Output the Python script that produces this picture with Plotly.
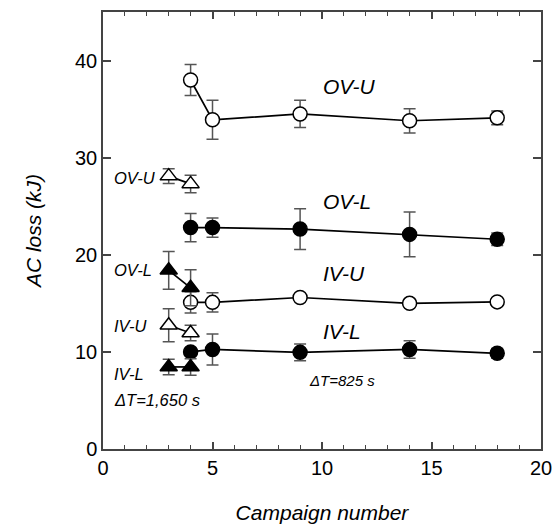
import plotly.graph_objects as go

# ---- data ----
campaign_circ = [4, 5, 9, 14, 18]
ovu_circ = [38.0, 33.9, 34.5, 33.8, 34.1]
ovu_circ_err = [1.6, 2.0, 1.4, 1.25, 0.7]
ovl_circ = [22.8, 22.8, 22.65, 22.1, 21.6]
ovl_circ_err = [1.45, 1.0, 2.1, 2.3, 0.65]
ivu_circ = [15.1, 15.1, 15.6, 15.0, 15.15]
ivu_circ_err = [1.1, 1.0, 0.3, 0.4, 0.4]
ivl_circ = [10.0, 10.25, 9.95, 10.25, 9.85]
ivl_circ_err = [0.4, 1.6, 0.85, 0.9, 0.5]

campaign_tri = [3, 4]
ovu_tri = [28.1, 27.3]
ovu_tri_err = [0.75, 0.9]
ovl_tri = [18.4, 16.6]
ovl_tri_err = [1.95, 1.85]
ivu_tri = [12.75, 11.95]
ivu_tri_err = [1.7, 0.8]
ivl_tri = [8.45, 8.45]
ivl_tri_err = [0.8, 0.85]

FONT = "Liberation Sans, Arial, Helvetica, sans-serif"
ERRC = "#555555"
AXC = "#444444"

fig = go.Figure()

def add(x, y, err, symbol, filled, size=14):
    fig.add_trace(go.Scatter(
        x=x, y=y, mode="lines+markers",
        line=dict(color="black", width=1.7),
        marker=dict(symbol=symbol, size=size,
                    color="black" if filled else "white",
                    line=dict(color="black", width=1.5)),
        error_y=dict(type="data", array=err, visible=True,
                     color=ERRC, thickness=1.5, width=6),
        showlegend=False, cliponaxis=False))

add(campaign_circ, ovu_circ, ovu_circ_err, "circle", False)
add(campaign_circ, ovl_circ, ovl_circ_err, "circle", True)
add(campaign_circ, ivu_circ, ivu_circ_err, "circle", False)
add(campaign_circ, ivl_circ, ivl_circ_err, "circle", True)
add(campaign_tri, ovu_tri, ovu_tri_err, "triangle-up", False, 15)
add(campaign_tri, ovl_tri, ovl_tri_err, "triangle-up", True, 15)
add(campaign_tri, ivu_tri, ivu_tri_err, "triangle-up", False, 15)
add(campaign_tri, ivl_tri, ivl_tri_err, "triangle-up", True, 15)

big = [("OV-U", 9.95, 37.3), ("OV-L", 9.95, 25.5), ("IV-U", 9.95, 18.05), ("IV-L", 9.95, 12.05)]
for t, x, y in big:
    fig.add_annotation(x=x, y=y, text="<i>%s</i>" % t, showarrow=False,
                       xanchor="left", yanchor="middle",
                       font=dict(family=FONT, size=21, color="black"))
fig.add_annotation(x=9.3, y=7.1, text="<i>ΔT=825 s</i>", showarrow=False,
                   xanchor="left", yanchor="middle",
                   font=dict(family=FONT, size=15, color="black"))

small = [("OV-U", 27.9), ("OV-L", 18.4), ("IV-U", 12.7), ("IV-L", 7.75), ("ΔT=1,650 s", 5.0)]
for t, y in small:
    fig.add_annotation(x=0.4, y=y, text="<i>%s</i>" % t, showarrow=False,
                       xanchor="left", yanchor="middle",
                       font=dict(family=FONT, size=16.5, color="black"))

axis_common = dict(showline=True, linecolor=AXC, linewidth=1.5, mirror="allticks",
                   ticks="inside", tickcolor=AXC, tickwidth=1.5,
                   showgrid=False, zeroline=False,
                   tickfont=dict(family=FONT, size=20, color="black"))

fig.update_xaxes(range=[0, 20], dtick=5, tick0=0, ticklen=7,
                 minor=dict(dtick=1, ticks="inside", ticklen=4, tickcolor=AXC, tickwidth=1.2),
                 title=dict(text="<i>Campaign number</i>", font=dict(family=FONT, size=21, color="black"),
                            standoff=28),
                 **axis_common)
fig.update_yaxes(range=[0, 45], dtick=10, tick0=0, ticklen=8,
                 title=dict(text="<i>AC loss (kJ)</i>", font=dict(family=FONT, size=21, color="black"),
                            standoff=28),
                 **axis_common)

fig.update_layout(width=560, height=524, plot_bgcolor="white", paper_bgcolor="white",
                  margin=dict(l=103, r=19, t=12, b=75, autoexpand=False))

fig.write_html("out.html", config={"displayModeBar": False},
               post_script="document.body.style.margin='0px';document.body.style.overflow='hidden';")
